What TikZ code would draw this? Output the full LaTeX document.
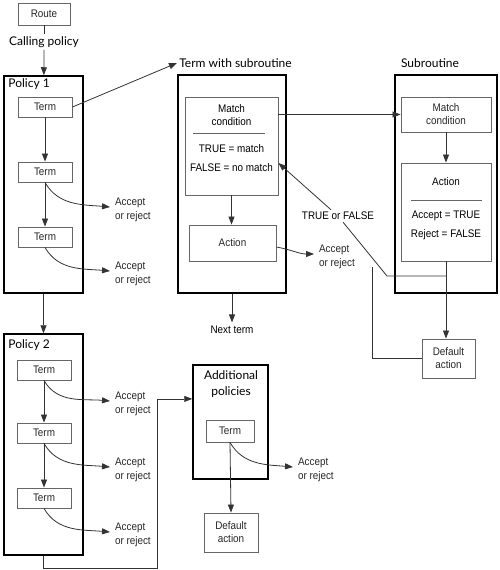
\documentclass[tikz,border=0pt]{standalone}
\usepackage{fontspec}
\setmainfont{Liberation Sans}[FakeStretch=0.9]
\newfontfamily\gillfont{Lato}
\usetikzlibrary{arrows.meta, positioning, calc}
\definecolor{cline}{HTML}{333333}
\definecolor{cbox}{HTML}{666666}
\newcommand\boxfont{\fontsize{11}{13}\selectfont}
\tikzset{
  every picture/.style={line width=0.8pt},
  frame/.style={draw=black, line width=1.5pt, minimum width=#1, inner sep=0pt},
  termbox/.style={draw=cbox, line width=0.9pt, minimum width=54pt, minimum height=20pt, inner sep=0pt, font=\boxfont, align=center, text=black!85},
  conn/.style={draw=cline, line width=0.8pt},
  arrow/.style={-{Triangle[length=8pt, width=6pt]}, draw=cline, line width=0.8pt},
  heading/.style={font=\gillfont\fontsize{12}{16}\selectfont, inner sep=2pt, align=center},
  outcome/.style={font=\fontsize{11}{13.5}\selectfont, align=left, anchor=west, inner sep=0pt, outer sep=5pt, text=black!85},
  rule/.style={draw=cbox, line width=0.8pt},
}

\begin{document}
\begin{tikzpicture}[x=1pt, y=-1pt]
  \useasboundingbox (0,0) rectangle (500,570);
  % calling policy
  \node[termbox, minimum width=52pt, minimum height=22pt] (route) at (44,14) {Route};
  \node[heading] (calling) at (44,42) {Calling policy};
  \draw[conn] (route) -- (calling);
  % policy 1
  \node[frame=79pt, minimum height=217pt] (pol1) at (43.5,184.5) {};
  \node[heading, anchor=west] (pol1lbl) at (6,84) {Policy 1};
  \node[termbox] (p1t1) at (45,107) {Term};
  \node[termbox] (p1t2) at (45,172) {Term};
  \node[termbox] (p1t3) at (45,237) {Term};
  \node[outcome] (p1a1) at (110,210) {Accept\\or reject};
  \node[outcome] (p1a2) at (110,274) {Accept\\or reject};
  \draw[arrow] (calling) -- (pol1);
  \draw[arrow] (p1t1) -- (p1t2); \draw[arrow] (p1t2) -- (p1t3);
  \draw[arrow] (p1t2.south) to[out=-60, in=175] ([yshift=3pt]p1a1.west);
  \draw[arrow] (p1t3.south) to[out=-60, in=175] ([yshift=3pt]p1a2.west);
  % policy 2
  \node[frame=79pt, minimum height=221pt] (pol2) at (43.5,444.5) {};
  \node[heading, anchor=west] (pol2lbl) at (6,345) {Policy 2};
  \node[termbox] (p2t1) at (44,370) {Term};
  \node[termbox] (p2t2) at (44,433) {Term};
  \node[termbox] (p2t3) at (44,498) {Term};
  \node[outcome] (p2a1) at (110,404) {Accept\\or reject};
  \node[outcome] (p2a2) at (110,470) {Accept\\or reject};
  \node[outcome] (p2a3) at (110,535) {Accept\\or reject};
  \draw[arrow] (pol1) -- (pol2);
  \draw[arrow] (p2t1) -- (p2t2); \draw[arrow] (p2t2) -- (p2t3);
  \draw[arrow] (p2t1.south) to[out=-60, in=175] ([yshift=3pt]p2a1.west);
  \draw[arrow] (p2t2.south) to[out=-60, in=175] ([yshift=3pt]p2a2.west);
  \draw[arrow] (p2t3.south) to[out=-60, in=175] ([yshift=3pt]p2a3.west);
  % additional policies
  \node[frame=75pt, minimum height=114pt] (addpol) at (230.5,422) {};
  \node[heading] (addlbl) at (231,384) {Additional\\policies};
  \node[termbox, minimum width=48pt, minimum height=22pt] (apt) at (230,431) {Term};
  \node[termbox, minimum height=39pt] (apdef) at (231,532.5) {Default\\action};
  \node[outcome] (apa) at (293,470) {Accept\\or reject};
  \coordinate (ret) at (157,568);
  \draw[arrow] (pol2.south) |- (ret) |- ($(addpol.north west)!0.3!(addpol.south west)$);
  \draw[arrow] (apt.south) -- (apdef.north);
  \draw[arrow] (apt.south) to[out=-60, in=175] ([yshift=3pt]apa.west);
  % term with subroutine
  \node[heading] (tws) at (235.5,63) {Term with subroutine};
  \node[frame=108pt, minimum height=218pt] (twsbox) at (232,184) {};
  \node[termbox, minimum width=93pt, minimum height=98pt] (m1) at (231.5,146) {};
  \node[font=\boxfont, align=center] (m1t) at (231.5,115) {Match\\condition};
  \draw[rule] (193,133) -- (265,133);
  \node[font=\fontsize{11}{19}\selectfont, align=center] (m1v) at (231.5,158.5) {TRUE = match\\FALSE = no match};
  \node[termbox, minimum width=87pt, minimum height=36pt] (act1) at (232.5,243) {Action};
  \node[outcome] (acc1) at (314,257) {Accept\\or reject};
  \node[font=\boxfont] (next) at (232,330) {Next term};
  \draw[arrow] (m1.south) -- (m1.south |- act1.north);
  \draw[arrow] ([yshift=-4pt]act1.east) to[out=-10, in=180] ([yshift=3pt]acc1.west);
  \draw[arrow] (twsbox.south) -- (next.north);
  \draw[arrow] (p1t1.east) -- (tws.west);
  % subroutine
  \node[heading] (sub) at (430,63) {Subroutine};
  \node[frame=102pt, minimum height=218pt] (subbox) at (446,184) {};
  \node[termbox, minimum width=90pt, minimum height=35pt] (m2) at (446,114.5) {Match\\condition};
  \node[termbox, minimum width=90pt, minimum height=98pt] (act2) at (446,212) {};
  \node[font=\boxfont] (act2t) at (446,182) {Action};
  \draw[rule] (411,200) -- (482,200);
  \node[font=\fontsize{11}{19}\selectfont, align=center] (act2v) at (446,225.5) {Accept = TRUE\\Reject = FALSE};
  \node[termbox, minimum width=53pt, minimum height=39pt] (def2) at (448.5,358.5) {Default\\action};
  \draw[arrow] (m1.east |- m2.west) -- (m2.west);
  \draw[arrow] (m2) -- (act2);
  \draw[arrow] (act2.south) -- (act2.south |- def2.north);
  % TRUE or FALSE back to the match condition
  \node[font=\boxfont, inner sep=2pt] (tf) at (338,216) {TRUE or FALSE};
  \coordinate (tfjoin) at (446,276);
  \coordinate (tfbend) at (387,276);
  \draw[conn] (tfjoin) -- (tfbend) -- (tf);
  \draw[arrow] (tf) -- ([yshift=-17pt]m1.east);
  \coordinate (dfend) at (372,267);
  \draw[conn] (def2.west) -| (dfend);
\end{tikzpicture}
\end{document}
